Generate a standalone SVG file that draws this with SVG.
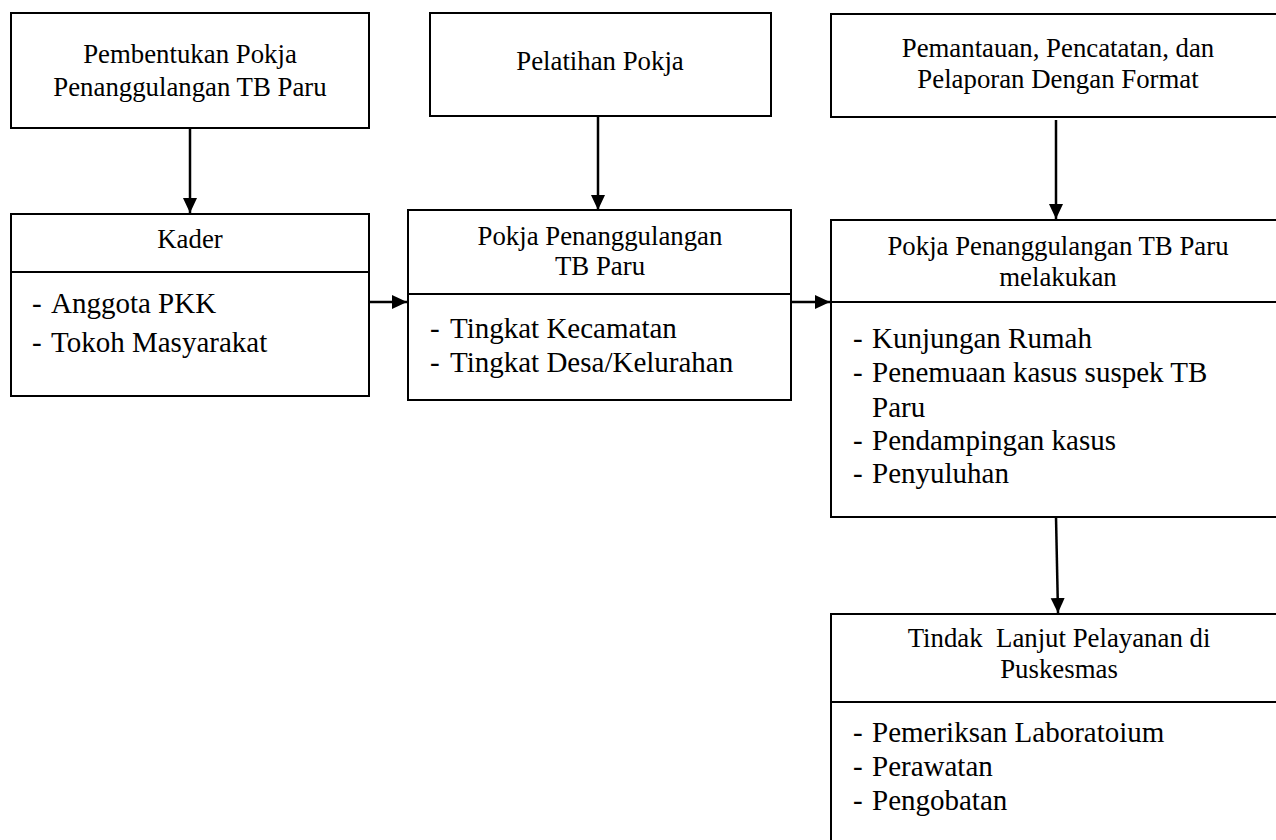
<svg xmlns="http://www.w3.org/2000/svg" width="1276" height="840" viewBox="0 0 1276 840">
<style>
.box{fill:#fff;stroke:#000;stroke-width:2}
.div{stroke:#000;stroke-width:2}
.t{font-family:"Liberation Serif","Times New Roman",serif;font-size:26.8px;fill:#000;text-anchor:middle;white-space:pre}
.l{font-family:"Liberation Serif","Times New Roman",serif;font-size:29px;fill:#000}
.c{stroke:#000;stroke-width:2.5;fill:none;marker-end:url(#ah)}
</style>
<defs>
<marker id="ah" markerUnits="userSpaceOnUse" markerWidth="16" markerHeight="16" refX="15" refY="7" orient="auto">
<path d="M0,0 L15,7 L0,14 Z" fill="#000"/>
</marker>
</defs>
<rect width="1276" height="840" fill="#fff"/>
<g id="connectors">
<line class="c" x1="190" y1="128" x2="190" y2="213"/>
<line class="c" x1="598" y1="116" x2="598" y2="210"/>
<line class="c" x1="1056" y1="120" x2="1056" y2="219"/>
<line class="c" x1="369" y1="302" x2="407" y2="302"/>
<line class="c" x1="791" y1="302" x2="830" y2="302"/>
<line class="c" x1="1056" y1="517" x2="1058" y2="613"/>
</g>
<g id="n1">
<rect class="box" x="11" y="13" width="358" height="115"/>
<text class="t" x="190" y="63">Pembentukan Pokja</text>
<text class="t" x="190" y="96">Penanggulangan TB Paru</text>
</g>
<g id="n2">
<rect class="box" x="430" y="13" width="341" height="103"/>
<text class="t" x="600" y="70">Pelatihan Pokja</text>
</g>
<g id="n3">
<rect class="box" x="831" y="14" width="460" height="103"/>
<text class="t" x="1058" y="57">Pemantauan, Pencatatan, dan</text>
<text class="t" x="1058" y="88">Pelaporan Dengan Format</text>
</g>
<g id="n4">
<rect class="box" x="11" y="214" width="358" height="182"/>
<line class="div" x1="11" y1="272" x2="369" y2="272"/>
<text class="t" x="190" y="248">Kader</text>
<text class="l" y="313"><tspan x="32">-</tspan><tspan x="51">Anggota PKK</tspan></text>
<text class="l" y="352"><tspan x="32">-</tspan><tspan x="51">Tokoh Masyarakat</tspan></text>
</g>
<g id="n5">
<rect class="box" x="408" y="210" width="383" height="190"/>
<line class="div" x1="408" y1="294" x2="791" y2="294"/>
<text class="t" x="600" y="245">Pokja Penanggulangan</text>
<text class="t" x="600" y="275">TB Paru</text>
<text class="l" y="338"><tspan x="430">-</tspan><tspan x="450">Tingkat Kecamatan</tspan></text>
<text class="l" y="372"><tspan x="430">-</tspan><tspan x="450">Tingkat Desa/Kelurahan</tspan></text>
</g>
<g id="n6">
<rect class="box" x="831" y="220" width="460" height="297"/>
<line class="div" x1="831" y1="302" x2="1291" y2="302"/>
<text class="t" x="1058" y="255">Pokja Penanggulangan TB Paru</text>
<text class="t" x="1058" y="286">melakukan</text>
<text class="l" y="348"><tspan x="853">-</tspan><tspan x="872">Kunjungan Rumah</tspan></text>
<text class="l" y="382"><tspan x="853">-</tspan><tspan x="872">Penemuaan kasus suspek TB</tspan></text>
<text class="l" y="417"><tspan x="872">Paru</tspan></text>
<text class="l" y="450"><tspan x="853">-</tspan><tspan x="872">Pendampingan kasus</tspan></text>
<text class="l" y="483"><tspan x="853">-</tspan><tspan x="872">Penyuluhan</tspan></text>
</g>
<g id="n7">
<rect class="box" x="831" y="614" width="460" height="260"/>
<line class="div" x1="831" y1="702" x2="1291" y2="702"/>
<text class="t" x="1059" y="647">Tindak  Lanjut Pelayanan di</text>
<text class="t" x="1059" y="678">Puskesmas</text>
<text class="l" y="742"><tspan x="853">-</tspan><tspan x="872">Pemeriksan Laboratoium</tspan></text>
<text class="l" y="776"><tspan x="853">-</tspan><tspan x="872">Perawatan</tspan></text>
<text class="l" y="810"><tspan x="853">-</tspan><tspan x="872">Pengobatan</tspan></text>
</g>
</svg>
